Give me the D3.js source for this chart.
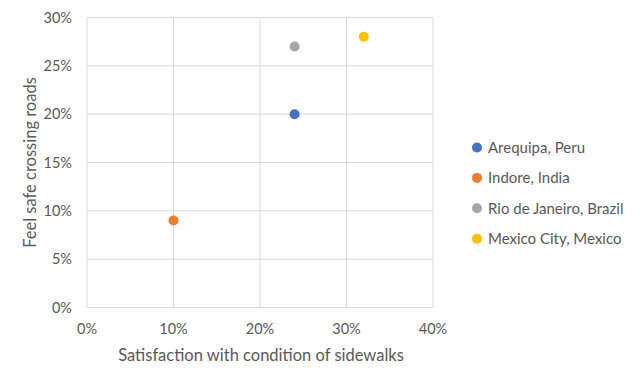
<!DOCTYPE html>
<html>
<head>
<meta charset="utf-8">
<script src="https://cdn.jsdelivr.net/npm/d3@7"></script>
<style>
  body { margin: 0; background: #fff; }
  text { font-family: Lato, "Open Sans", sans-serif; fill: #595959; }
</style>
</head>
<body>
<script>
// data
var cities = ["Arequipa, Peru", "Indore, India", "Rio de Janeiro, Brazil", "Mexico City, Mexico"];
var sidewalks = [0.24, 0.10, 0.24, 0.32];
var safeCrossing = [0.20, 0.09, 0.27, 0.28];
var colors = ["#4472C4", "#ED7D31", "#A5A5A5", "#FFC000"];
var xTicks = [0, 0.1, 0.2, 0.3, 0.4];
var yTicks = [0, 0.05, 0.1, 0.15, 0.2, 0.25, 0.3];

var width = 640, height = 385;
var plotLeft = 87, plotRight = 433, plotTop = 17.5, plotBottom = 307.5;

var x = d3.scaleLinear().domain([0, 0.4]).range([plotLeft, plotRight]);
var y = d3.scaleLinear().domain([0, 0.3]).range([plotBottom, plotTop]);
var pct = d3.format(".0%");

var svg = d3.select("body").append("svg")
    .attr("width", width)
    .attr("height", height);

// gridlines
svg.append("g")
  .selectAll("line")
  .data(xTicks)
  .enter().append("line")
    .attr("x1", function(d) { return x(d); })
    .attr("x2", function(d) { return x(d); })
    .attr("y1", plotTop)
    .attr("y2", plotBottom)
    .attr("stroke", "#D9D9D9")
    .attr("stroke-width", 1);

svg.append("g")
  .selectAll("line")
  .data(yTicks)
  .enter().append("line")
    .attr("x1", plotLeft)
    .attr("x2", plotRight)
    .attr("y1", function(d) { return y(d); })
    .attr("y2", function(d) { return y(d); })
    .attr("stroke", "#D9D9D9")
    .attr("stroke-width", 1);

// tick labels
svg.append("g")
  .selectAll("text")
  .data(xTicks)
  .enter().append("text")
    .attr("x", function(d) { return x(d); })
    .attr("y", plotBottom + 26)
    .attr("text-anchor", "middle")
    .style("font-size", "14.5px")
    .text(pct);

svg.append("g")
  .selectAll("text")
  .data(yTicks)
  .enter().append("text")
    .attr("x", 72)
    .attr("y", function(d) { return y(d) + 5; })
    .attr("text-anchor", "end")
    .style("font-size", "14.5px")
    .text(pct);

// axis titles
svg.append("text")
    .attr("x", (plotLeft + plotRight) / 2 + 1)
    .attr("y", 361)
    .attr("text-anchor", "middle")
    .style("font-size", "16.5px")
    .text("Satisfaction with condition of sidewalks");

svg.append("text")
    .attr("transform", "translate(36," + ((plotTop + plotBottom) / 2) + ") rotate(-90)")
    .attr("text-anchor", "middle")
    .style("font-size", "16.5px")
    .text("Feel safe crossing roads");

// points
svg.append("g")
  .selectAll("circle")
  .data(cities)
  .enter().append("circle")
    .attr("cx", function(d, i) { return x(sidewalks[i]); })
    .attr("cy", function(d, i) { return y(safeCrossing[i]); })
    .attr("r", 5)
    .attr("fill", function(d, i) { return colors[i]; });

// legend
var legend = svg.append("g")
  .selectAll("g")
  .data(cities)
  .enter().append("g")
    .attr("transform", function(d, i) { return "translate(477," + (147.5 + i * 30.4) + ")"; });

legend.append("circle")
    .attr("r", 5)
    .attr("fill", function(d, i) { return colors[i]; });

legend.append("text")
    .attr("x", 11)
    .attr("y", 5.5)
    .style("font-size", "15px")
    .text(function(d) { return d; });
</script>
</body>
</html>
